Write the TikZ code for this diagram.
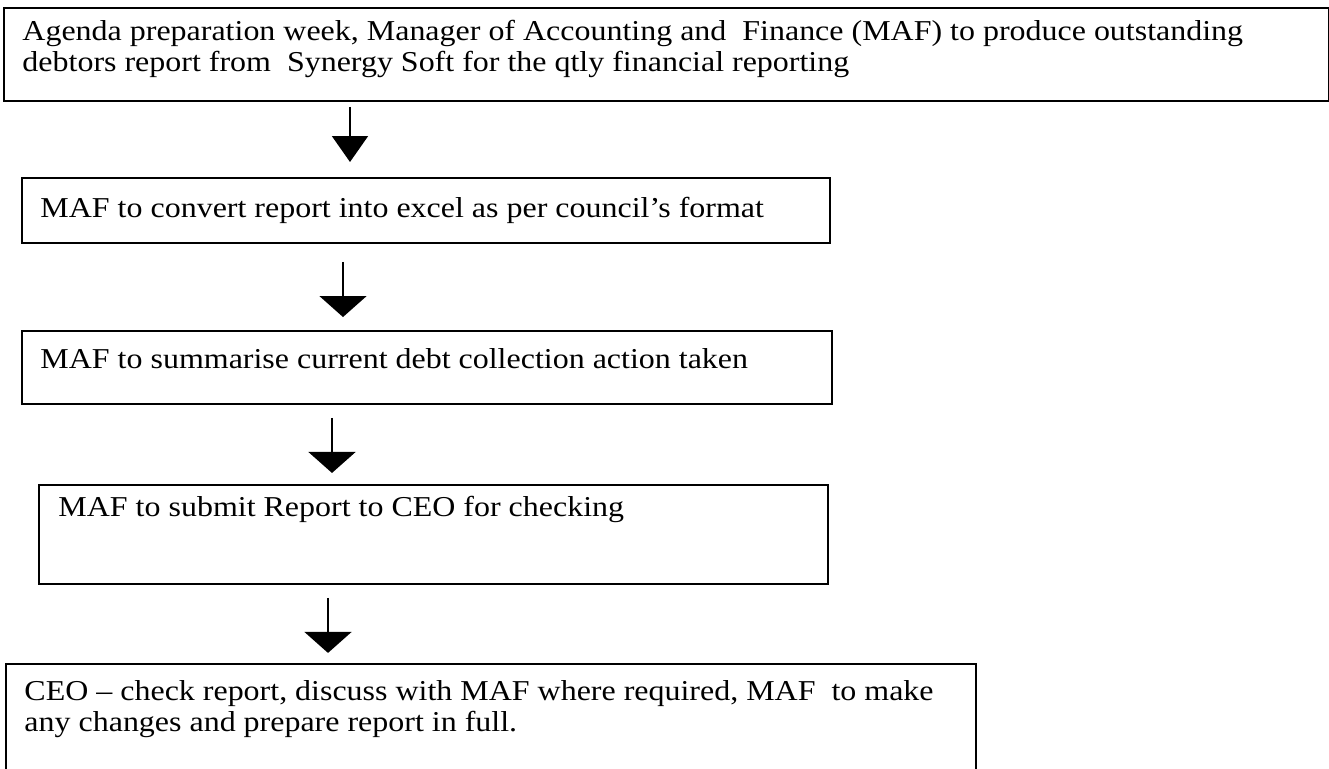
\documentclass[tikz,border=0pt]{standalone}
\usepackage{fontspec}
\setmainfont{Liberation Serif}[FakeStretch=1.11]
\usetikzlibrary{positioning, arrows.meta}

% one unit of the drawing grid
\def\px{0.41667pt}

\tikzset{
  stepbox/.style={draw, line width=0.8pt, anchor=north west, inner sep=0pt},
  steptext/.style={anchor=base west, align=left, inner sep=0pt,
                   font=\fontsize{12}{13}\selectfont},
  flow/.style={line width=0.6pt, -{Triangle[width=19.6pt, length=8.75pt]}},
  flowfirst/.style={line width=0.6pt, -{Triangle[width=15pt, length=10.8pt]}}
}

\begin{document}
\begin{tikzpicture}[x=\px, y=-\px]
    \clip (0,0) rectangle (1329,769);

    % --- Process boxes ---
    \node[stepbox, minimum width=1325*\px, minimum height=93*\px] (agenda)  at (3,7) {};
    \node[stepbox, minimum width=808*\px,  minimum height=65*\px] (convert) at (21,177) {};
    \node[stepbox, minimum width=810*\px,  minimum height=73*\px] (summary) at (21,330) {};
    \node[stepbox, minimum width=789*\px,  minimum height=99*\px] (submit)  at (38,484) {};
    \node[stepbox, minimum width=970*\px,  minimum height=160*\px] (check)  at (5,663) {};

    % --- Box texts (base = last line) ---
    \node[steptext] (agendatext) at (22,72)
        {Agenda preparation week, Manager of Accounting and~ Finance (MAF) to produce outstanding\\
         debtors report from~ Synergy Soft for the qtly financial reporting};
    \node[steptext] (converttext) at (40,218) {MAF to convert report into excel as per council’s format};
    \node[steptext] (summarytext) at (40,369) {MAF to summarise current debt collection action taken};
    \node[steptext] (submittext)  at (58,517) {MAF to submit Report to CEO for checking};
    \node[steptext] (checktext)   at (24,732)
        {CEO – check report, discuss with MAF where required, MAF~ to make\\
         any changes and prepare report in full.};

    % --- Flow arrows ---
    \draw[flowfirst, shorten <=2.1pt, shorten >=6.25pt] (agenda.south -| 350,0) -- (convert.north -| 350,0);
    \draw[flow, shorten <=7.5pt, shorten >=5.4pt] (convert.south -| 343,0) -- (summary.north -| 343,0);
    \draw[flow, shorten <=5.4pt, shorten >=4.6pt] (summary.south -| 332,0) -- (submit.north -| 332,0);
    \draw[flow, shorten <=5.4pt, shorten >=4.2pt] (submit.south -| 328,0) -- (check.north -| 328,0);

\end{tikzpicture}
\end{document}
